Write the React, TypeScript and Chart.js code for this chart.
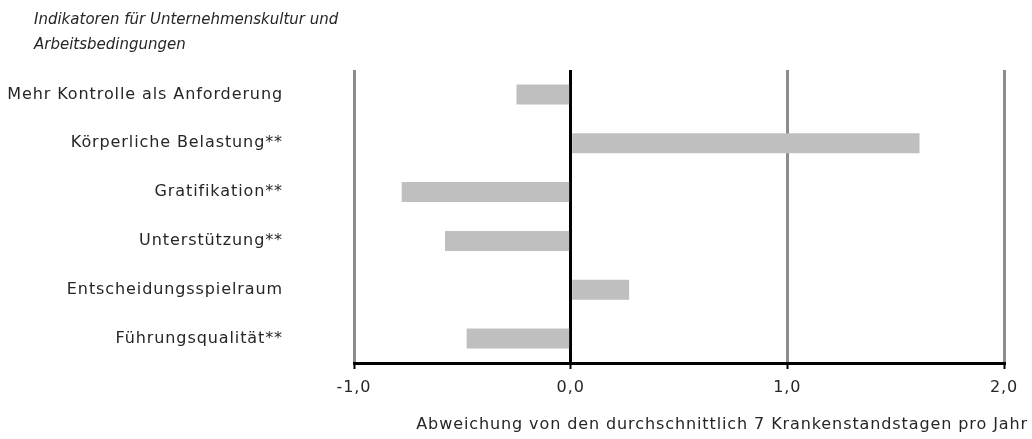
import React, { useEffect, useRef } from "react";
import { Chart, registerables } from "chart.js";

Chart.register(...registerables);

const categories = [
  "Mehr Kontrolle als Anforderung",
  "Körperliche Belastung**",
  "Gratifikation**",
  "Unterstützung**",
  "Entscheidungsspielraum",
  "Führungsqualität**",
];
const values = [-0.25, 1.61, -0.78, -0.58, 0.27, -0.48];
const titleLines = ["Indikatoren für Unternehmenskultur und", "Arbeitsbedingungen"];
const xTitle = "Abweichung von den durchschnittlich 7 Krankenstandstagen pro Jahr";
const xMin = -1;
const xMax = 2;

const FONT = "'DejaVu Sans', sans-serif";
const TEXT = "#262626";

const textPlugin = {
  id: "extraText",
  beforeDraw(chart: any) {
    chart.ctx.letterSpacing = "0.9px";
  },
  afterDraw(chart: any) {
    const ctx = chart.ctx;
    ctx.save();
    ctx.fillStyle = TEXT;
    ctx.textBaseline = "middle";
    ctx.textAlign = "left";
    ctx.letterSpacing = "0px";
    ctx.font = `italic 15px ${FONT}`;
    titleLines.forEach((t, i) => ctx.fillText(t, 34, 20 + i * 25));
    ctx.letterSpacing = "0.9px";
    ctx.font = `16px ${FONT}`;
    ctx.textAlign = "right";
    ctx.fillText(xTitle, 1028, 425);
    ctx.restore();
  },
};

export default function App() {
  const ref = useRef<HTMLCanvasElement | null>(null);
  useEffect(() => {
    document.body.style.margin = "0";
    const chart = new Chart(ref.current!, {
      type: "bar",
      data: {
        labels: categories,
        datasets: [
          {
            data: values,
            backgroundColor: "#BFBFBF",
            borderWidth: 0,
            barPercentage: 0.41,
            categoryPercentage: 1,
          },
        ],
      },
      options: {
        indexAxis: "y",
        animation: false,
        responsive: false,
        maintainAspectRatio: false,
        layout: { autoPadding: false, padding: { top: 70, right: 28, bottom: 0, left: 0 } },
        plugins: { legend: { display: false }, tooltip: { enabled: false }, title: { display: false } },
        scales: {
          x: {
            min: xMin,
            max: xMax,
            z: 1,
            ticks: {
              stepSize: 1,
              padding: 9,
              color: TEXT,
              font: { family: FONT, size: 16 },
              callback: (v: any) => Number(v).toFixed(1).replace(".", ","),
            },
            grid: {
              color: (c: any) => (c.tick && c.tick.value === 0 ? "#000000" : "#8C8C8C"),
              lineWidth: 3,
              drawTicks: true,
              tickLength: 6,
              tickColor: "#000000",
              tickWidth: 2,
            },
            border: { display: true, color: "#000000", width: 3 },
            afterFit: (s: any) => {
              s.height = 76;
              s.paddingLeft = 0;
              s.paddingRight = 0;
            },
          },
          y: {
            grid: { display: false, drawTicks: false },
            border: { display: false },
            ticks: {
              padding: 71,
              color: TEXT,
              font: { family: FONT, size: 16 },
            },
            afterFit: (s: any) => {
              s.width = 354;
              s.paddingTop = 0;
              s.paddingBottom = 0;
            },
          },
        },
      },
      plugins: [textPlugin],
    });
    return () => chart.destroy();
  }, []);
  return <canvas ref={ref} width={1032} height={439} style={{ display: "block" }} />;
}
